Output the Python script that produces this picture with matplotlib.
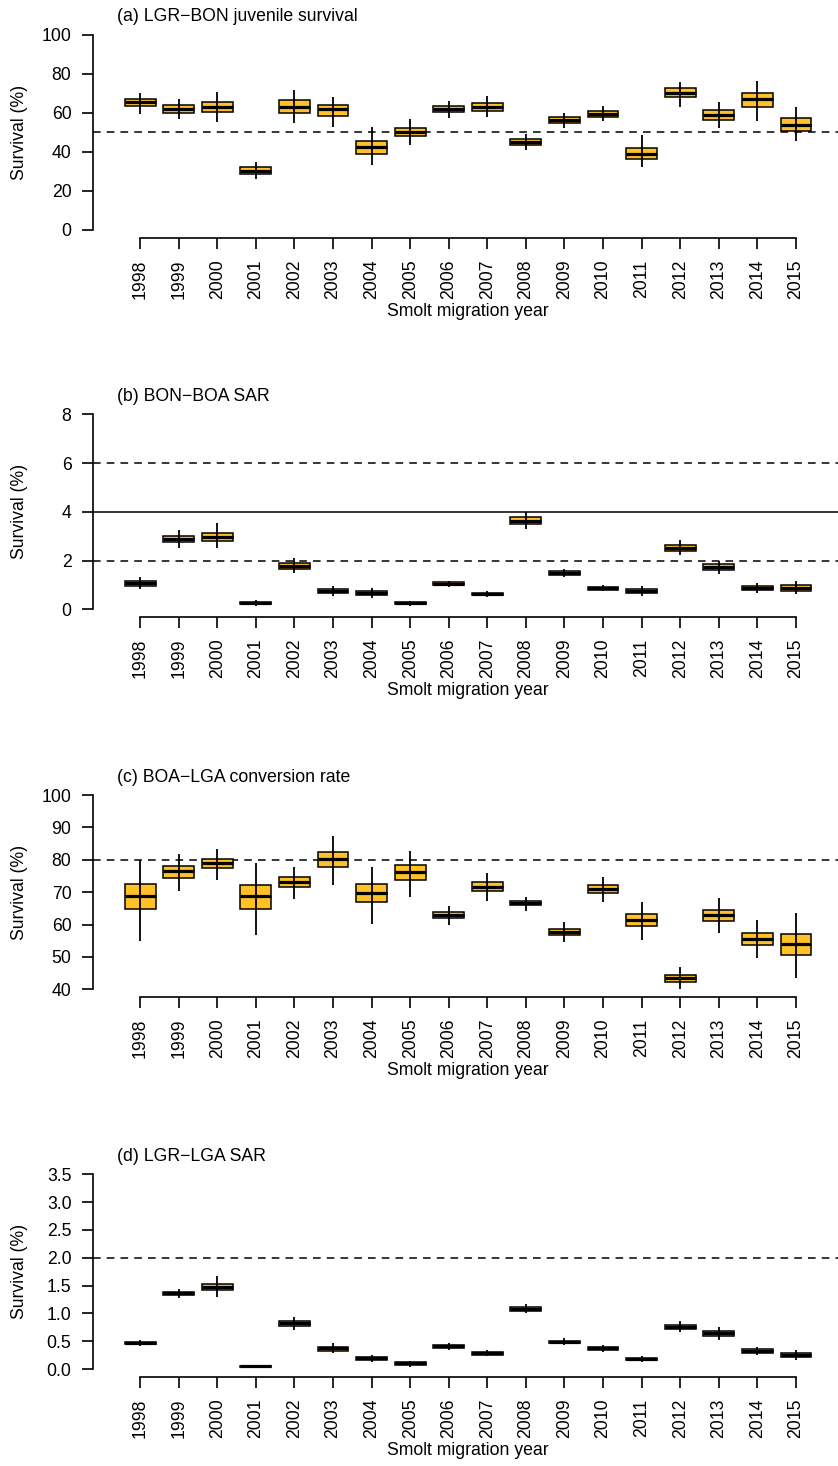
import matplotlib
matplotlib.use("Agg")
import matplotlib.pyplot as plt
import numpy as np

plt.rcParams["font.family"] = ["Liberation Sans", "DejaVu Sans"]

years = list(range(1998, 2016))

# (a) LGR-BON juvenile survival (%)
a_lo = [59.3, 56.8, 55.0, 26.2, 54.7, 52.6, 33.5, 43.6, 57.3, 57.8, 41.0, 52.1, 55.6, 32.0, 62.7, 52.1, 55.7, 45.3]
a_q1 = [63.2, 59.8, 60.3, 28.7, 59.8, 58.5, 39.0, 47.9, 60.3, 61.0, 43.4, 54.7, 57.9, 36.4, 68.0, 56.4, 62.9, 50.4]
a_med = [65.3, 62.1, 62.9, 30.4, 63.1, 61.9, 42.2, 50.1, 62.1, 63.1, 45.0, 56.2, 59.5, 39.1, 70.3, 58.8, 66.8, 53.7]
a_q3 = [67.2, 63.9, 65.6, 32.0, 66.3, 64.1, 45.5, 52.3, 63.4, 65.0, 46.5, 57.8, 61.0, 42.1, 72.5, 61.2, 70.3, 57.1]
a_hi = [70.1, 67.2, 70.6, 34.7, 71.6, 68.0, 52.6, 56.9, 66.2, 68.5, 48.9, 60.0, 63.4, 48.5, 75.6, 65.3, 76.2, 62.7]

# (b) BON-BOA SAR (%)
b_lo = [0.83, 2.53, 2.50, 0.14, 1.48, 0.56, 0.45, 0.14, 0.93, 0.52, 3.30, 1.34, 0.74, 0.56, 2.23, 1.45, 0.67, 0.63]
b_q1 = [0.96, 2.75, 2.80, 0.20, 1.67, 0.68, 0.58, 0.20, 0.99, 0.57, 3.49, 1.42, 0.80, 0.68, 2.38, 1.61, 0.79, 0.76]
b_med = [1.07, 2.89, 2.98, 0.25, 1.79, 0.77, 0.66, 0.25, 1.05, 0.63, 3.64, 1.49, 0.86, 0.75, 2.50, 1.72, 0.86, 0.86]
b_q3 = [1.15, 3.01, 3.15, 0.29, 1.91, 0.84, 0.74, 0.28, 1.11, 0.67, 3.78, 1.56, 0.92, 0.82, 2.62, 1.84, 0.95, 0.99]
b_hi = [1.34, 3.24, 3.53, 0.38, 2.12, 0.97, 0.89, 0.36, 1.18, 0.74, 3.99, 1.66, 1.00, 0.96, 2.85, 2.00, 1.07, 1.16]

# (c) BOA-LGA conversion rate (%)
c_lo = [54.9, 70.5, 73.9, 56.8, 67.9, 72.2, 60.3, 68.6, 59.9, 67.4, 64.2, 54.5, 66.9, 55.2, 40.0, 57.5, 49.8, 43.5]
c_q1 = [64.8, 74.5, 77.6, 64.9, 71.5, 77.8, 67.0, 73.9, 62.1, 70.5, 65.9, 56.9, 69.7, 59.5, 42.4, 61.1, 53.8, 50.7]
c_med = [68.8, 76.4, 78.9, 68.8, 73.0, 80.2, 69.7, 76.2, 62.9, 71.7, 66.6, 57.8, 71.0, 61.5, 43.5, 62.9, 55.6, 54.0]
c_q3 = [72.5, 78.2, 80.2, 72.1, 74.6, 82.5, 72.4, 78.5, 63.8, 73.0, 67.2, 58.6, 72.1, 63.4, 44.5, 64.5, 57.4, 57.0]
c_hi = [79.9, 81.8, 83.3, 79.0, 77.9, 87.3, 77.9, 82.8, 65.8, 75.8, 68.6, 60.9, 74.7, 67.1, 47.0, 68.1, 61.5, 63.5]

# (d) LGR-LGA SAR (%)
d_lo = [0.42, 1.27, 1.29, 0.01, 0.70, 0.28, 0.13, 0.04, 0.35, 0.23, 1.00, 0.43, 0.31, 0.13, 0.67, 0.53, 0.25, 0.16]
d_q1 = [0.45, 1.33, 1.42, 0.03, 0.78, 0.33, 0.17, 0.07, 0.38, 0.26, 1.05, 0.47, 0.34, 0.16, 0.72, 0.59, 0.29, 0.21]
d_med = [0.47, 1.36, 1.47, 0.05, 0.82, 0.37, 0.19, 0.10, 0.41, 0.28, 1.08, 0.49, 0.37, 0.18, 0.76, 0.64, 0.32, 0.25]
d_q3 = [0.49, 1.39, 1.53, 0.06, 0.86, 0.40, 0.22, 0.12, 0.43, 0.30, 1.12, 0.51, 0.39, 0.20, 0.79, 0.68, 0.36, 0.28]
d_hi = [0.53, 1.44, 1.67, 0.08, 0.94, 0.46, 0.26, 0.15, 0.46, 0.34, 1.16, 0.55, 0.43, 0.23, 0.86, 0.75, 0.40, 0.34]

panels = [
    dict(title="(a) LGR\u2212BON juvenile survival", lo=a_lo, q1=a_q1, med=a_med, q3=a_q3, hi=a_hi,
         yticks=np.arange(0, 101, 20), fmt="{:.0f}", dashed=[50], solid=[], px=(34.5, 230.0)),
    dict(title="(b) BON\u2212BOA SAR", lo=b_lo, q1=b_q1, med=b_med, q3=b_q3, hi=b_hi,
         yticks=np.arange(0, 9, 2), fmt="{:.0f}", dashed=[2, 6], solid=[4], px=(414.3, 609.3)),
    dict(title="(c) BOA\u2212LGA conversion rate", lo=c_lo, q1=c_q1, med=c_med, q3=c_q3, hi=c_hi,
         yticks=np.arange(40, 101, 10), fmt="{:.0f}", dashed=[80], solid=[], px=(795.0, 989.3)),
    dict(title="(d) LGR\u2212LGA SAR", lo=d_lo, q1=d_q1, med=d_med, q3=d_q3, hi=d_hi,
         yticks=np.arange(0, 3.51, 0.5), fmt="{:.1f}", dashed=[2], solid=[], px=(1174.3, 1369.0)),
]

W, H = 838, 1466
fig = plt.figure(figsize=(W / 100, H / 100), dpi=100)
box_color = "#FFC125"
pos = np.arange(1, len(years) + 1)
fs = 12.7

for p in panels:
    top_px, bot_px = p["px"]
    span = bot_px - top_px
    ax_bot = bot_px + 0.04 * span
    ax_top = top_px - 0.04 * span
    left_px, right_px = 93.0, 843.0
    ax = fig.add_axes([left_px / W, 1 - ax_bot / H, (right_px - left_px) / W, (ax_bot - ax_top) / H])

    ymin, ymax = p["yticks"][0], p["yticks"][-1]
    r = ymax - ymin
    ax.set_ylim(ymin - 0.04 * r, ymax + 0.04 * r)
    ax.set_xlim(1 - 0.5 - 0.04 * 18, 18 + 0.5 + 0.04 * 18)

    for v in p["dashed"]:
        ax.axhline(v, color="black", lw=1.1, ls=(0, (5, 4)), zorder=1)
    for v in p["solid"]:
        ax.axhline(v, color="black", lw=1.1, zorder=1)

    stats = [dict(whislo=lo, q1=q1, med=m, q3=q3, whishi=hi)
             for lo, q1, m, q3, hi in zip(p["lo"], p["q1"], p["med"], p["q3"], p["hi"])]
    ax.bxp(stats, positions=pos, widths=0.8, patch_artist=True, showcaps=False, showfliers=False,
           boxprops=dict(facecolor=box_color, edgecolor="black", linewidth=1.1),
           medianprops=dict(color="black", linewidth=2.3, solid_capstyle="butt"),
           whiskerprops=dict(linewidth=0), manage_ticks=False, zorder=2)
    ax.vlines(pos, p["lo"], p["hi"], color="black", lw=1.3, zorder=3)

    for s in ["top", "right"]:
        ax.spines[s].set_visible(False)
    ax.spines["left"].set_bounds(ymin, ymax)
    ax.spines["bottom"].set_bounds(1, 18)
    ax.spines["left"].set_linewidth(1.2)
    ax.spines["bottom"].set_linewidth(1.2)

    ax.set_yticks(p["yticks"])
    ax.set_yticklabels([p["fmt"].format(t) for t in p["yticks"]])
    ax.set_xticks(pos)
    ax.set_xticklabels([str(y) for y in years], rotation=90)
    ax.tick_params(axis="both", direction="out", length=8, width=1.2, pad=7.5, labelsize=fs)

    ax.set_ylabel("Survival (%)", fontsize=fs)
    ax.yaxis.set_label_coords((28.0 - left_px) / (right_px - left_px), 0.5)
    ax.set_xlabel("Smolt migration year", fontsize=fs)
    ax.xaxis.set_label_coords(0.5, -65.0 / (ax_bot - ax_top))

    ax.text((117.0 - left_px) / (right_px - left_px), 1 + 9.8 / (ax_bot - ax_top), p["title"],
            transform=ax.transAxes, ha="left", va="center", fontsize=fs)

fig.savefig("out.png", dpi=100)
